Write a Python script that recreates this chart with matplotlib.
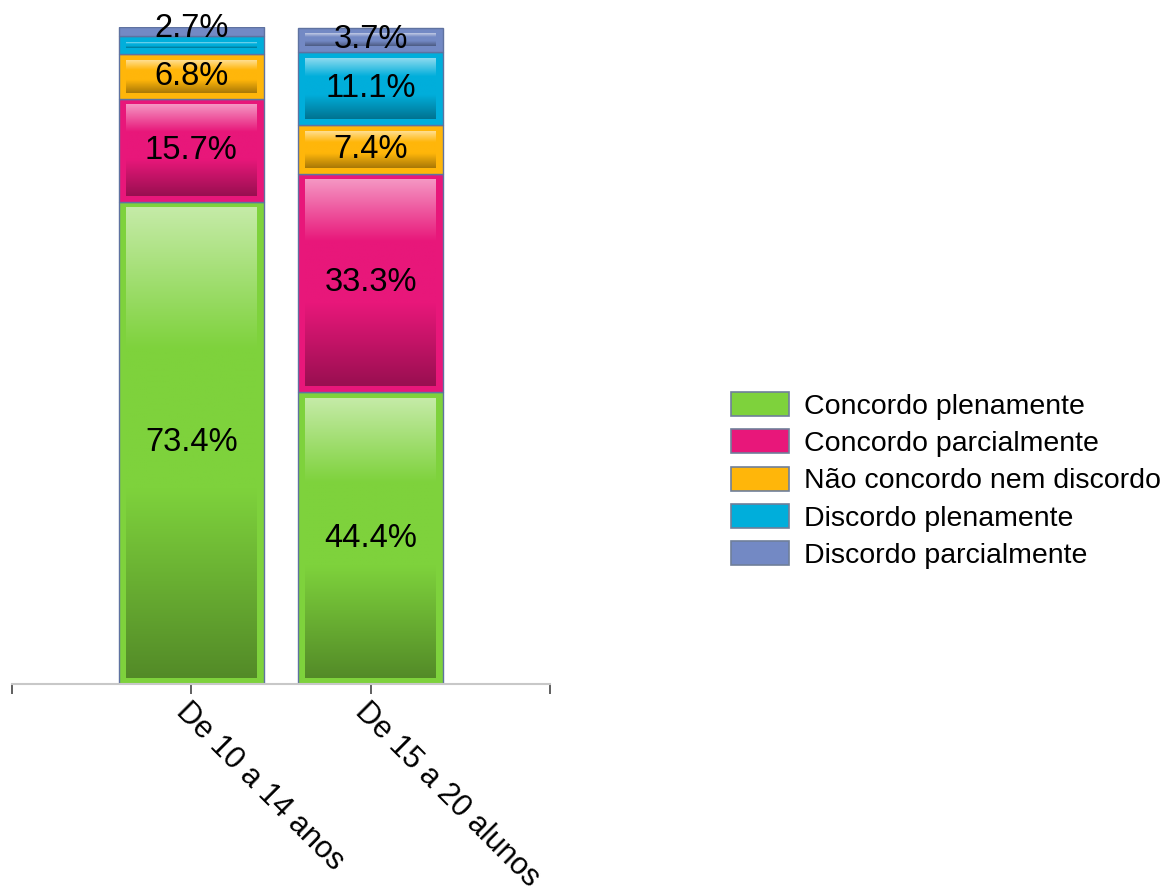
import matplotlib
matplotlib.use("Agg")
import matplotlib.pyplot as plt
import numpy as np
from matplotlib.colors import to_rgb
from matplotlib.patches import Patch

plt.rcParams['font.family'] = ['Liberation Sans', 'DejaVu Sans']

# ---- data ----
categories = ["De 10 a 14 anos", "De 15 a 20 alunos"]
series_names = ["Concordo plenamente", "Concordo parcialmente",
                "Não concordo nem discordo", "Discordo plenamente",
                "Discordo parcialmente"]
concordo_plenamente = [73.4, 44.4]
concordo_parcialmente = [15.7, 33.3]
nao_concordo_nem_discordo = [6.8, 7.4]
discordo_plenamente = [2.7, 11.1]
discordo_parcialmente = [1.4, 3.7]
series_values = [concordo_plenamente, concordo_parcialmente,
                 nao_concordo_nem_discordo, discordo_plenamente,
                 discordo_parcialmente]
colors = ["#7ED23C", "#E8177A", "#FFB60A", "#00AEDB", "#7389C4"]

W, H = 1165, 893
fig = plt.figure(figsize=(W / 100, H / 100), dpi=100)
ax = fig.add_axes([12 / W, 1 - 684 / H, 538 / W, 657 / H])
ax.set_xlim(-1, 2)
ax.set_ylim(0, 100)

bar_w = 0.805
x = np.arange(len(categories))
insx = 7 / 179.3
insy = 6 / 6.57


def grad_colors(base, n=200):
    b = np.array(to_rgb(base))
    light = b + (1 - b) * 0.55
    dark = b * 0.66
    t = np.linspace(0, 1, n)
    out = np.empty((n, 3))
    for i, tt in enumerate(t):
        if tt < 0.3:
            f = tt / 0.3
            out[i] = light * (1 - f) + b * f
        elif tt < 0.6:
            out[i] = b
        else:
            f = (tt - 0.6) / 0.4
            out[i] = b * (1 - f) + dark * f
    return out.reshape(n, 1, 3)


bottoms = np.zeros(len(categories))
for name, vals, col in zip(series_names, series_values, colors):
    vals = np.array(vals, dtype=float)
    ax.bar(x, vals, bar_w, bottom=bottoms, color=col, edgecolor="#5F72A0",
           linewidth=1.0, zorder=2)
    for xi, b, v in zip(x, bottoms, vals):
        x0, x1 = xi - bar_w / 2 + insx, xi + bar_w / 2 - insx
        y0, y1 = b + insy, b + v - insy
        if y1 - y0 > 0.3:
            ax.imshow(grad_colors(col), extent=(x0, x1, y0, y1), aspect='auto',
                      origin='upper', zorder=3, interpolation='bilinear')
    bottoms = bottoms + vals

# value labels
bottoms = np.zeros(len(categories))
totals = np.sum(np.array(series_values), axis=0)
for vals in series_values:
    for i, (b, v) in enumerate(zip(bottoms, vals)):
        if v < 1.5:
            continue
        y = b + v / 2 if v >= 3 else totals[i] - 0.3
        ax.text(x[i], y, f"{v:.1f}%", ha='center', va='center', fontsize=23.5,
                color='black', zorder=5)
    bottoms = bottoms + np.array(vals)

ax.set_xlim(-1, 2)
ax.set_ylim(0, 100)

for s in ['left', 'right', 'top']:
    ax.spines[s].set_visible(False)
ax.spines['bottom'].set_color('#c8c8c8')
ax.spines['bottom'].set_linewidth(1.5)
ax.set_yticks([])
ax.set_xticks([-1, 0, 1, 2])
ax.set_xticklabels([""] + categories + [""])
ax.tick_params(axis='x', length=7, width=1.2, color='#444444', pad=2,
               labelsize=22)
for lab in ax.get_xticklabels():
    lab.set_rotation(-45)
    lab.set_ha('left')
    lab.set_va('top')
    lab.set_rotation_mode('anchor')

handles = [Patch(facecolor=c, edgecolor='#6f7f9a', linewidth=1.2) for c in colors]
fig.legend(handles, series_names, loc='upper left',
           bbox_to_anchor=(731 / W, 1 - 392 / H), frameon=False, fontsize=20.5,
           handlelength=2.05, handleheight=0.93, handletextpad=0.5,
           labelspacing=0.33, borderpad=0, borderaxespad=0)

fig.savefig("out.png", dpi=100)
